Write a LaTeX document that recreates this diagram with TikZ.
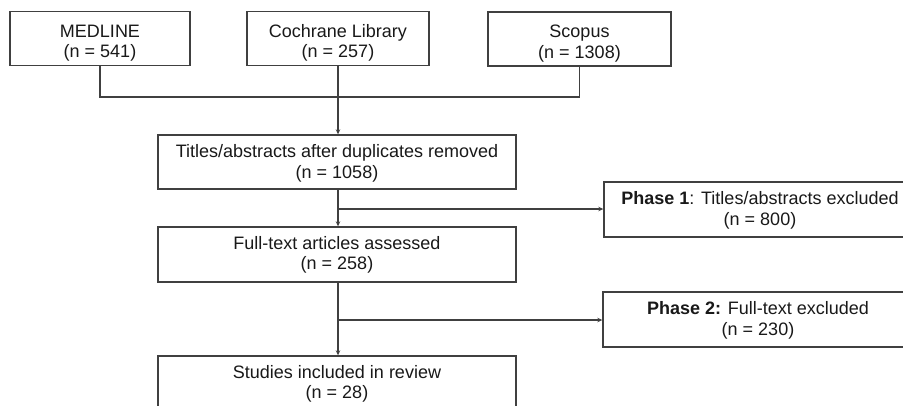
\documentclass[tikz,border=0pt]{standalone}
\usepackage{fontspec}
\setmainfont{Liberation Sans}
\usetikzlibrary{arrows.meta}
\definecolor{ln}{HTML}{404040}
\tikzset{
  box/.style={draw=ln, line width=1.4pt, fill=white, minimum height=54pt, inner sep=0pt},
  txt/.style={align=center, font=\fontsize{18}{20.5}\selectfont, inner sep=0pt, text=black!90},
  conn/.style={draw=ln, line width=1.3pt},
  arr/.style={conn, -{Stealth[length=5pt,width=4.5pt]}}
}
\begin{document}
\begin{tikzpicture}[x=1pt,y=-1pt]
\clip (0,0) rectangle (903,405);
\fill[white] (0,0) rectangle (903,405);
\node[box, minimum width=180pt] (med) at (100,38.5) {};
\node[box, minimum width=182pt] (coch) at (338,38.5) {};
\node[box, minimum width=183pt] (sco) at (579.5,39) {};
\node[box, minimum width=358pt] (titles) at (337,162) {};
\node[box, minimum width=358pt, minimum height=55pt] (full) at (337,254.5) {};
\node[box, minimum width=358pt, minimum height=55pt] (stud) at (337,383.5) {};
\node[box, minimum width=312pt, minimum height=55pt] (p1) at (760,209.5) {};
\node[box, minimum width=310pt, minimum height=55pt] (p2) at (758,319.5) {};
\node[txt] (medt) at ([yshift=-4.5pt]med.center) {MEDLINE\\(n = 541)};
\node[txt] (cocht) at ([yshift=-4.5pt]coch.center) {Cochrane Library\\(n = 257)};
\node[txt] (scot) at ([yshift=-4.5pt]sco.center) {Scopus\\(n = 1308)};
\node[txt] (titlest) at ([yshift=-1.5pt]titles.center) {Titles/abstracts after duplicates removed\\(n = 1058)};
\node[txt] (fullt) at ([yshift=-0.5pt]full.center) {Full-text articles assessed\\(n = 258)};
\node[txt] (studt) at ([yshift=-0.5pt]stud.center) {Studies included in review\\(n = 28)};
\node[txt] (p1t) at ([yshift=-1pt]p1.center) {\textbf{Phase 1}: Titles/abstracts excluded\\(n = 800)};
\node[txt] (p2t) at ([yshift=-1pt]p2.center) {\textbf{Phase 2:} Full-text excluded\\(n = 230)};
\coordinate (j) at (338,97);
\coordinate (b1) at (338,209);
\coordinate (b2) at (338,320);
\draw[conn] (med.south) |- (j) -| (sco.south);
\draw[arr] (coch.south) -- (coch.south |- titles.north);
\draw[arr] (titles.south -| coch.south) -- (full.north -| coch.south);
\draw[arr] (b1) -- (p1.west |- b1);
\draw[arr] (full.south -| coch.south) -- (stud.north -| coch.south);
\draw[arr] (b2) -- (p2.west |- b2);
\end{tikzpicture}
\end{document}
